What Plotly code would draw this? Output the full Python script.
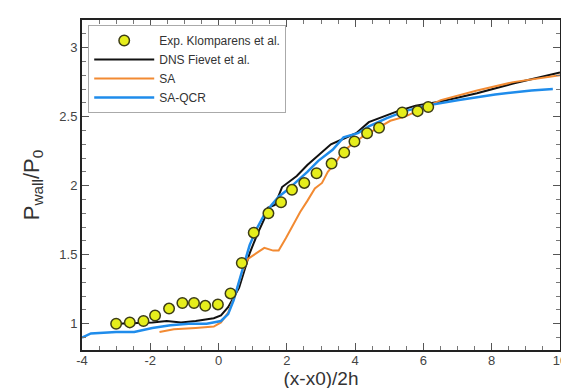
import plotly.graph_objects as go

# Experimental data (Klomparens et al.)
exp_x = [-3.0, -2.6, -2.2, -1.86, -1.45, -1.06, -0.72, -0.39, -0.02, 0.35, 0.68, 1.03,
         1.46, 1.83, 2.15, 2.51, 2.87, 3.31, 3.68, 3.98, 4.35, 4.70, 5.38, 5.83, 6.14]
exp_y = [1.00, 1.01, 1.02, 1.06, 1.11, 1.15, 1.15, 1.13, 1.14, 1.22, 1.44, 1.66,
         1.80, 1.88, 1.97, 2.02, 2.09, 2.16, 2.24, 2.32, 2.38, 2.42, 2.53, 2.54, 2.57]

# DNS Fievet et al.
dns_x = [-3.0, -1.94, -1.52, -1.1, -0.67, -0.14, 0.07, 0.28, 0.44, 0.60, 0.75, 0.91,
         1.12, 1.34, 1.44, 1.65, 1.86, 2.08, 2.29, 2.6, 2.92, 3.29, 3.66, 4.03, 4.4,
         4.82, 5.25, 5.77, 6.51, 7.57, 8.63, 10.0]
dns_y = [1.00, 1.01, 1.02, 1.01, 1.02, 1.04, 1.06, 1.12, 1.19, 1.26, 1.38, 1.51,
         1.64, 1.76, 1.84, 1.86, 1.99, 2.03, 2.07, 2.15, 2.22, 2.30, 2.34, 2.38, 2.46,
         2.50, 2.54, 2.58, 2.61, 2.67, 2.74, 2.82]

# SA
sa_x = [-1.73, -1.31, -0.67, -0.14, 0.07, 0.28, 0.49, 0.70, 0.86, 1.12, 1.34, 1.6,
        1.76, 1.97, 2.18, 2.39, 2.6, 2.82, 3.03, 3.2, 3.44, 3.65, 4.02, 4.3, 4.61,
        5.03, 5.46, 5.99, 6.51, 7.57, 8.63, 10.0]
sa_y = [0.94, 0.96, 0.97, 0.98, 1.01, 1.08, 1.21, 1.38, 1.47, 1.51, 1.55, 1.53,
        1.53, 1.62, 1.72, 1.81, 1.89, 1.98, 2.02, 2.10, 2.17, 2.25, 2.32, 2.37, 2.41,
        2.47, 2.50, 2.56, 2.62, 2.69, 2.75, 2.80]

# SA-QCR
qcr_x = [-4.0, -3.74, -3.0, -2.47, -1.94, -1.41, -0.88, -0.35, 0.07, 0.28, 0.44, 0.60,
         0.75, 0.91, 1.12, 1.34, 1.55, 1.76, 2.02, 2.29, 2.6, 2.92, 3.34, 3.66, 4.08,
         4.4, 4.93, 5.46, 6.09, 7.04, 8.1, 9.16, 9.79]
qcr_y = [0.90, 0.93, 0.94, 0.94, 0.97, 0.99, 1.00, 1.00, 1.02, 1.07, 1.17, 1.31,
         1.45, 1.57, 1.69, 1.79, 1.86, 1.92, 1.97, 2.03, 2.10, 2.18, 2.26, 2.35, 2.38,
         2.43, 2.49, 2.54, 2.58, 2.62, 2.66, 2.69, 2.70]

x_ticks = [-4, -2, 0, 2, 4, 6, 8, 10]
y_ticks = [1, 1.5, 2, 2.5, 3]

fig = go.Figure()
fig.add_trace(go.Scatter(x=dns_x, y=dns_y, mode="lines", name="DNS Fievet et al.",
                         legendrank=2, line=dict(color="#111111", width=2)))
fig.add_trace(go.Scatter(x=sa_x, y=sa_y, mode="lines", name="SA",
                         legendrank=3, line=dict(color="#f28a32", width=2)))
fig.add_trace(go.Scatter(x=qcr_x, y=qcr_y, mode="lines", name="SA-QCR",
                         legendrank=4, line=dict(color="#1f8ceb", width=2.5)))
fig.add_trace(go.Scatter(x=exp_x, y=exp_y, mode="markers", name="Exp. Klomparens et al.",
                         legendrank=1,
                         marker=dict(size=10.5, color="#e6ee1c",
                                     line=dict(color="#3d3d16", width=1.5))))

axis_common = dict(showline=True, linecolor="#222222", linewidth=2, mirror="ticks",
                   ticks="inside", ticklen=7, tickwidth=1, tickcolor="#555555",
                   showgrid=False, zeroline=False,
                   tickfont=dict(family="Liberation Sans, Arial", size=13, color="#444444"))

fig.update_layout(
    width=569, height=388,
    margin=dict(l=74, r=14, t=10, b=46),
    paper_bgcolor="white", plot_bgcolor="white",
    font=dict(family="Liberation Sans, Arial", color="#333333"),
    xaxis=dict(range=[-4, 10], tickvals=x_ticks, ticktext=[str(v) for v in x_ticks],
               title=dict(text="(x-x0)/2h", font=dict(size=19, color="#333333"), standoff=0),
               ticklabelstandoff=-3,
               minor=dict(dtick=0.5, ticks="inside", ticklen=4, tickcolor="#777777"),
               **axis_common),
    yaxis=dict(range=[0.81, 3.2], tickvals=y_ticks, ticktext=["1", "1.5", "2", "2.5", "3"],
               title=dict(text="P<sub>wall</sub>/P<sub>0</sub>", font=dict(size=22, color="#333333"),
                          standoff=14),
               minor=dict(dtick=0.1, ticks="inside", ticklen=4, tickcolor="#777777"),
               **axis_common),
    legend=dict(x=0.013, y=0.985, xanchor="left", yanchor="top",
                bgcolor="white", bordercolor="#aaaaaa", borderwidth=1,
                font=dict(family="Liberation Sans, Arial", size=12, color="#333333"),
                itemwidth=60, tracegroupgap=0),
    showlegend=True,
)

fig.write_html("out.html")
